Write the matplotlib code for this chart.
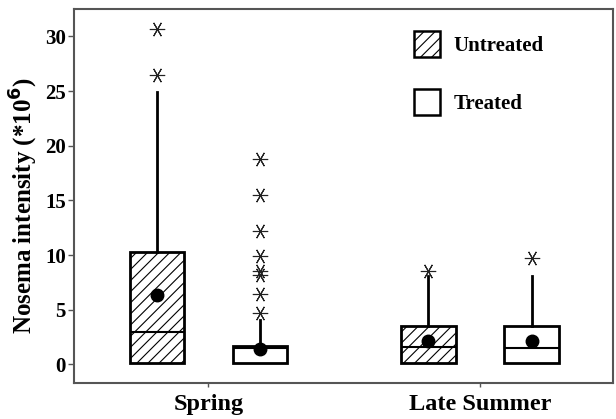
import numpy as np
import matplotlib
matplotlib.use('Agg')
import matplotlib.pyplot as plt
from matplotlib.patches import Patch

plt.rcParams['font.family'] = 'Liberation Serif'
plt.rcParams['font.weight'] = 'bold'
plt.rcParams['hatch.linewidth'] = 0.8
plt.rcParams['hatch.color'] = '#444444'

# groups and treatments
seasons = ['Spring', 'Late Summer']
treatments = ['Untreated', 'Treated']

# box stats (order: Spring-Untreated, Spring-Treated, LateSummer-Untreated, LateSummer-Treated)
q1 = [0.12, 0.12, 0.12, 0.12]
med = [3.0, 1.5, 1.59, 1.5]
q3 = [10.27, 1.68, 3.48, 3.48]
whislo = [0.12, 0.12, 0.12, 0.12]
whishi = [24.95, 4.03, 8.07, 8.1]
means = [6.35, 1.44, 2.14, 2.1]
fliers = [
    [30.67, 26.45],
    [18.79, 15.49, 12.19, 9.9, 8.55, 8.16, 6.42, 4.74],
    [8.55],
    [9.69],
]

stats = []
for i in range(4):
    stats.append(dict(q1=q1[i], med=med[i], q3=q3[i], whislo=whislo[i],
                      whishi=whishi[i], mean=means[i], fliers=fliers[i]))

pos = [1 - 0.19, 1 + 0.19, 2 - 0.19, 2 + 0.19]

fig = plt.figure(figsize=(6.16, 4.19), dpi=100)
ax = fig.add_axes([0.1202, 0.0859, 0.875, 0.8926])

bp = ax.bxp(stats, positions=pos, widths=0.2, patch_artist=True,
            showmeans=True, showcaps=False,
            boxprops=dict(linewidth=2, edgecolor='black', facecolor='white'),
            medianprops=dict(color='black', linewidth=1.5),
            whiskerprops=dict(color='black', linewidth=2),
            meanprops=dict(marker='o', markerfacecolor='black', markeredgecolor='black', markersize=9),
            flierprops=dict(marker=(6, 2, 30), markersize=11, markeredgecolor='#222222',
                            markeredgewidth=0.8, linestyle='none'))

for i, box in enumerate(bp['boxes']):
    if i % 2 == 0:
        box.set_hatch('///')

ax.set_xlim(0.505, 2.49)
ax.set_ylim(-1.7, 32.5)
ax.set_yticks([0, 5, 10, 15, 20, 25, 30])
ax.set_xticks([1, 2])
ax.set_xticklabels(seasons, fontsize=17.5, fontweight='bold')
ax.tick_params(axis='y', length=4, width=1, color='#555555', pad=2, labelsize=15)
ax.tick_params(axis='x', length=3, width=1, color='#555555', pad=5)
ax.set_ylabel('Nosema intensity (*10$^{\\mathbf{6}}$)', fontsize=18, fontweight='bold')
ax.yaxis.set_label_coords(-0.063, 0.476)

for s in ax.spines.values():
    s.set_color('#555555')
    s.set_linewidth(1.5)

handles = [Patch(facecolor='white', edgecolor='black', hatch='///', linewidth=1.8),
           Patch(facecolor='white', edgecolor='black', linewidth=1.8)]
ax.legend(handles, treatments, loc='upper left', bbox_to_anchor=(0.63, 0.942),
          frameon=False, prop=dict(family='Liberation Serif', weight='bold', size=15),
          handlelength=1.25, handleheight=1.6, labelspacing=1.5,
          handletextpad=0.65, borderpad=0, borderaxespad=0)

fig.savefig('out.png', dpi=100)
